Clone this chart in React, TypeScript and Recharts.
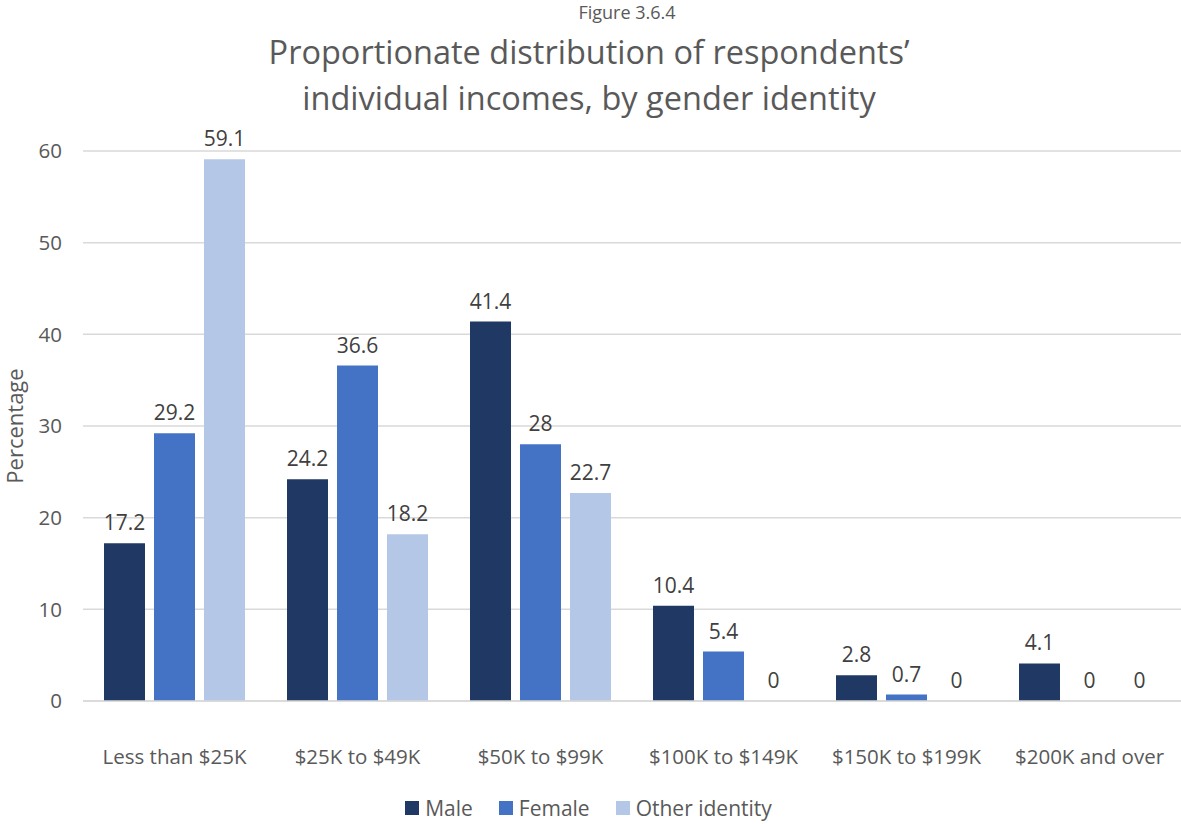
import { BarChart, Bar, XAxis, YAxis, CartesianGrid, LabelList } from "recharts";

const categories = [
  "Less than $25K",
  "$25K to $49K",
  "$50K to $99K",
  "$100K to $149K",
  "$150K to $199K",
  "$200K and over",
];
const male = [17.2, 24.2, 41.4, 10.4, 2.8, 4.1];
const female = [29.2, 36.6, 28, 5.4, 0.7, 0];
const other = [59.1, 18.2, 22.7, 0, 0, 0];
const yTicks = [0, 10, 20, 30, 40, 50, 60];

const data = categories.map((c, i) => ({
  name: c,
  male: male[i],
  female: female[i],
  other: other[i],
}));

const series = [
  { key: "male", name: "Male", color: "#203864" },
  { key: "female", name: "Female", color: "#4472C4" },
  { key: "other", name: "Other identity", color: "#B4C7E7" },
];

const FONT = "'Open Sans', sans-serif";
const TEXT = "#595959";

export default function App() {
  return (
    <div
      style={{
        position: "absolute",
        left: 0,
        top: 0,
        width: 1181,
        height: 824,
        background: "#fff",
        fontFamily: FONT,
      }}
    >
      <div
        style={{
          position: "absolute",
          left: 527,
          width: 200,
          top: 0,
          textAlign: "center",
          fontSize: 18,
          color: TEXT,
          lineHeight: "24px",
        }}
      >
        Figure 3.6.4
      </div>
      <div
        style={{
          position: "absolute",
          left: 139,
          width: 900,
          top: 29,
          textAlign: "center",
          fontSize: 32.5,
          color: TEXT,
          lineHeight: "46px",
        }}
      >
        Proportionate distribution of respondents’
        <br />
        individual incomes, by gender identity
      </div>
      <BarChart
        width={1181}
        height={824}
        data={data}
        margin={{ top: 151, right: 0, bottom: 93, left: 0 }}
        barSize={41}
        barGap={9}
        style={{ fontFamily: FONT }}
      >
        <CartesianGrid vertical={false} stroke="#d9d9d9" strokeWidth={1.5} />
        <XAxis
          dataKey="name"
          height={30}
          axisLine={{ stroke: "#d9d9d9", strokeWidth: 1.5 }}
          tickLine={false}
          tick={{ fill: TEXT, fontSize: 20.5 }}
          tickMargin={48}
          tickSize={0}
          interval={0}
        />
        <YAxis
          width={83}
          domain={[0, 60]}
          ticks={yTicks}
          axisLine={false}
          tickLine={false}
          tickSize={0}
          tickMargin={21}
          tick={{ fill: TEXT, fontSize: 20.5 }}
          label={{
            value: "Percentage",
            angle: -90,
            position: "insideLeft",
            offset: 15,
            style: { fill: TEXT, fontSize: 22, textAnchor: "middle" },
          }}
        />
        {series.map((s) => (
          <Bar
            key={s.key}
            dataKey={s.key}
            name={s.name}
            fill={s.color}
            minPointSize={(v: number) => (v === 0 ? 0.01 : 0)}
            isAnimationActive={false}
          >
            <LabelList dataKey={s.key} position="top" offset={13} fill="#404040" fontSize={21} />
          </Bar>
        ))}
      </BarChart>
      <div
        style={{
          position: "absolute",
          left: 0,
          width: 1181,
          top: 794,
          display: "flex",
          justifyContent: "center",
          alignItems: "center",
          paddingRight: 4,
          boxSizing: "border-box",
          fontSize: 21,
          color: TEXT,
          lineHeight: "28px",
        }}
      >
        {series.map((s) => (
          <div key={s.key} style={{ display: "flex", alignItems: "center", margin: "0 13px" }}>
            <span style={{ width: 14, height: 14, background: s.color, marginRight: 6 }} />
            <span>{s.name}</span>
          </div>
        ))}
      </div>
    </div>
  );
}
